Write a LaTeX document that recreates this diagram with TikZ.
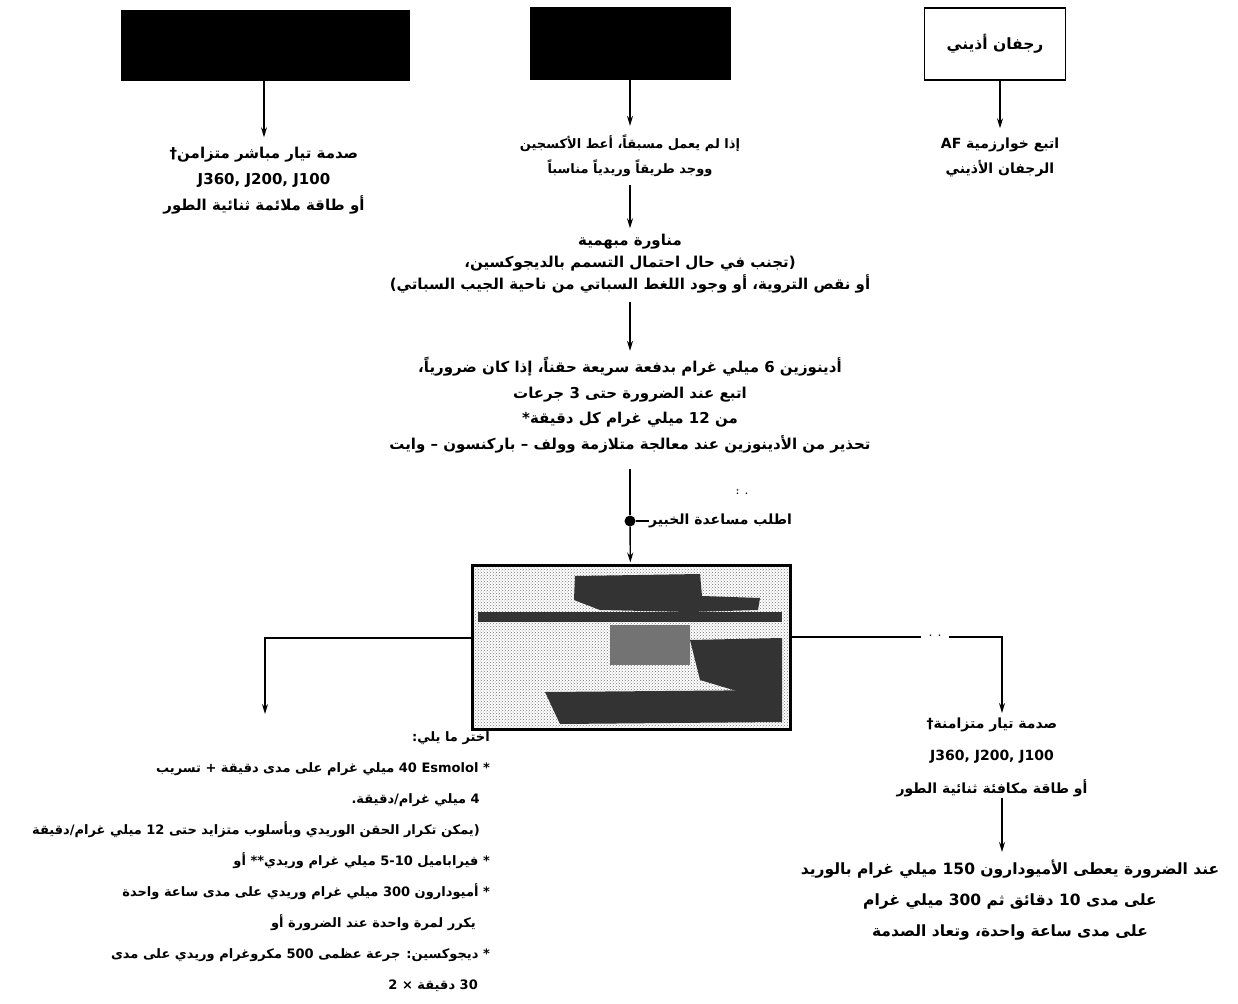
\documentclass[tikz,border=0pt]{standalone}
\usepackage{fontspec}
\usetikzlibrary{arrows.meta,patterns}
\TeXXeTstate=1
\newfontfamily\arabicfont[Script=Arabic]{DejaVu Sans}
\newcommand\ar[1]{\beginR #1\endR}
\newcommand\lr[1]{\beginL #1\endL{}}
\newcommand\fs[2]{\arabicfont\bfseries\fontsize{#1}{#2}\selectfont}
\tikzset{
  txt/.style={font=\fs{14}{25}, align=center, inner sep=0pt},
  arr/.style={-{Stealth[length=10pt,width=6pt]}, line width=1.4pt},
  ln/.style={line width=1.4pt},
  blackbox/.style={fill=black, draw=black, inner sep=0pt},
  whitebox/.style={draw=black, line width=1.6pt, inner sep=0pt},
  blob/.style={fill=black!80},
}
\begin{document}
\begin{tikzpicture}[x=1pt,y=-1pt]
\useasboundingbox[fill=white] (0,0) rectangle (1238,1003);

% top boxes
\node[blackbox, minimum width=288pt, minimum height=70pt] (b1) at (265,45) {};
\node[blackbox, minimum width=200pt, minimum height=72pt] (b2) at (630,43) {};
\node[whitebox, minimum width=141pt, minimum height=72pt, txt, font=\fs{15.5}{18}] (b3) at (995,44) {\ar{رجفان أذيني}};

% texts under top boxes
\node[txt, font=\fs{15}{26}] (t1) at (264,181) {\ar{صدمة تيار مباشر متزامن†}\\ J360, J200, J100\\ \ar{أو طاقة ملائمة ثنائية الطور}};
\node[txt, font=\fs{13}{25}] (t2) at (630,156) {\ar{إذا لم يعمل مسبقاً، أعط الأكسجين}\\ \ar{ووجد طريقاً وريدياً مناسباً}};
\node[txt, font=\fs{14}{25}] (t8) at (1000,157) {\ar{اتبع خوارزمية AF}\\ \ar{الرجفان الأذيني}};

\node[txt, font=\fs{15}{22}] (t3) at (630,264) {\ar{مناورة مبهمية}\\ \ar{(تجنب في حال احتمال التسمم بالديجوكسين،}\\ \ar{أو نقص التروية، أو وجود اللغط السباتي من ناحية الجيب السباتي)}};

\node[txt, font=\fs{15}{25.5}] (t4) at (630,405) {\ar{أدينوزين \lr{6} ميلي غرام بدفعة سريعة حقناً، إذا كان ضرورياً،}\\ \ar{اتبع عند الضرورة حتى \lr{3} جرعات}\\ \ar{من \lr{12} ميلي غرام كل دقيقة*}\\ \ar{تحذير من الأدينوزين عند معالجة متلازمة وولف – باركنسون – وايت}};

% expert help
\node[circle, fill=black, inner sep=0pt, minimum size=11pt] (dot) at (630,521) {};
\node[txt, anchor=west, font=\fs{14}{16}] (help) at (649,521) {\ar{اطلب مساعدة الخبير}};
\node[txt, font=\bfseries\fontsize{11}{12}\selectfont] (hdots) at (742,492) {: .};

% central box
\node[draw=black, line width=3pt, minimum width=318pt, minimum height=164pt, inner sep=0pt,
      pattern=crosshatch dots, pattern color=black!55] (bx) at (631,647) {};
\begin{scope}
\clip (bx.south west) rectangle (bx.north east);
\fill[blob] (575,576) -- (700,574) -- (702,596) -- (760,598) -- (758,610) -- (690,612) -- (600,610) -- (574,600) -- cycle;
\fill[blob] (478,612) rectangle (782,622);
\fill[blob] (690,640) -- (782,638) -- (782,690) -- (740,692) -- (700,680) -- cycle;
\fill[blob] (545,692) -- (782,690) -- (782,722) -- (560,724) -- cycle;
\fill[black!55] (610,625) rectangle (690,665);
\end{scope}

% connectors top
\draw[arr, shorten >=10pt] (b1.south -| t1.north) -- (t1.north);
\draw[arr, shorten >=9pt] (b2) -- (t2);
\draw[arr, shorten >=9pt] (b3.south -| t8.north) -- (t8.north);
\draw[arr, shorten <=8pt, shorten >=6pt] (t2) -- (t3);
\draw[arr, shorten <=8pt, shorten >=6pt] (t3) -- (t4);
\draw[ln, shorten <=16pt] (t4) -- (dot);
\draw[arr, shorten >=1pt] (dot) -- (bx);
\draw[ln] (dot) -- (help);

% left branch
\coordinate (lcorner) at (265,638);
\coordinate (lend) at (265,714);
\draw[arr] (bx.west |- lcorner) -- (lcorner) -- (lend);

\node[txt, anchor=north east, align=right, font=\fs{13}{31}] (t5) at (490,731) {%
\ar{اختر ما يلي:}\\
\ar{* Esmolol \lr{40} ميلي غرام على مدى دقيقة + تسريب}\\
\ar{\hspace*{10pt}\lr{4} ميلي غرام/دقيقة.}\\
\ar{\hspace*{10pt}(يمكن تكرار الحقن الوريدي وبأسلوب متزايد حتى \lr{12} ميلي غرام/دقيقة}\\
\ar{* فيراباميل \lr{5-10} ميلي غرام وريدي** أو}\\
\ar{* أميودارون \lr{300} ميلي غرام وريدي على مدى ساعة واحدة}\\
\ar{\hspace*{14pt}يكرر لمرة واحدة عند الضرورة أو}\\
\ar{* ديجوكسين: جرعة عظمى \lr{500} مكروغرام وريدي على مدى}\\
\ar{\hspace*{12pt}\lr{30} دقيقة × \lr{2}}};

% right branch
\node[txt, fill=white, inner xsep=8pt, inner ysep=2pt, font=\bfseries\fontsize{11}{12}\selectfont] (ylab) at (935,636) {. .};
\coordinate (rcorner) at (1002,637);
\node[txt, font=\fs{14}{32.5}] (t6) at (992,757) {\ar{صدمة تيار متزامنة†}\\ J360, J200, J100\\ \ar{أو طاقة مكافئة ثنائية الطور}};
\coordinate (rend) at (1002,713);
\draw[ln] (bx.east |- rcorner) -- (ylab.west |- rcorner);
\draw[arr] (ylab.east |- rcorner) -- (rcorner) -- (rend);

\node[txt, font=\fs{15.5}{31}] (t7) at (1010,900) {\ar{عند الضرورة يعطى الأميودارون \lr{150} ميلي غرام بالوريد}\\ \ar{على مدى \lr{10} دقائق ثم \lr{300} ميلي غرام}\\ \ar{على مدى ساعة واحدة، وتعاد الصدمة}};
\coordinate (r2start) at (1002,798);
\coordinate (r2end) at (1002,852);
\draw[arr] (r2start) -- (r2end);
\end{tikzpicture}
\end{document}
